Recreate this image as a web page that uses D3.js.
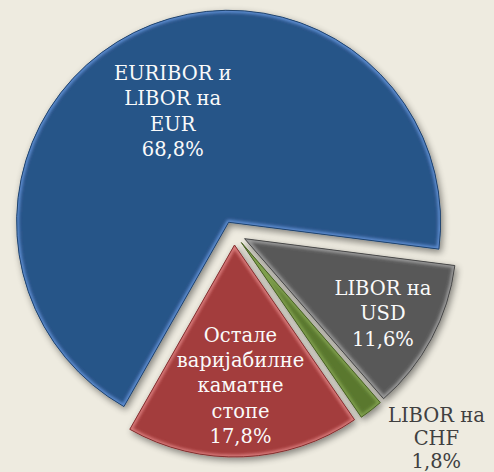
<!DOCTYPE html>
<html>
<head>
<meta charset="utf-8">
<script src="https://cdn.jsdelivr.net/npm/d3@7"></script>
<style>
  body { margin: 0; background: #eeebe0; }
  svg { display: block; }
</style>
</head>
<body>
<svg width="494" height="472"></svg>
<script>
// podaci
const categories = ["EURIBOR и LIBOR на EUR", "LIBOR на USD", "LIBOR на CHF", "Остале варијабилне каматне стопе"];
const values = [68.8, 11.6, 1.8, 17.8];
const labelLines = [
  ["EURIBOR и", "LIBOR на", "EUR", "68,8%"],
  ["LIBOR на", "USD", "11,6%"],
  ["LIBOR на", "CHF", "1,8%"],
  ["Остале", "варијабилне", "каматне", "стопе", "17,8%"]
];

const colors = ["#285488", "#595959", "#5a782e", "#a33c3c"];
const edgeColors = ["#5d8cd0", "#9a9a9a", "#7f9f4e", "#d87a7a"];
const labelColors = ["#fafafa", "#fafafa", "#404040", "#fafafa"];
const labelRadius = [0.59, 0.74, 1.30, 0.66]; // faktor poluprecnika za tekst
const labelShift = [0, 0, -7.0, 0]; // pomeraj ugla u stepenima
const lineHeights = [25.3, 25.3, 23.3, 25.3];

const svg = d3.select("svg"),
  cx = 234,
  cy = 233,
  radius = 212,
  explode = 12;

const defs = svg.append("defs");

// senka
const shadow = defs.append("filter").attr("id", "shadow")
  .attr("x", "-20%").attr("y", "-20%").attr("width", "140%").attr("height", "140%");
shadow.append("feGaussianBlur").attr("in", "SourceAlpha").attr("stdDeviation", 3.5);
shadow.append("feOffset").attr("dx", 2).attr("dy", 3).attr("result", "off");
shadow.append("feComponentTransfer").append("feFuncA").attr("type", "linear").attr("slope", 0.45);
const merge = shadow.append("feMerge");
merge.append("feMergeNode");
merge.append("feMergeNode").attr("in", "SourceGraphic");

const soft = defs.append("filter").attr("id", "soft");
soft.append("feGaussianBlur").attr("stdDeviation", 1.6);

const g = svg.append("g").attr("transform", `translate(${cx},${cy})`);

const pie = d3.pie()
  .sort(null)
  .value((d) => d)
  .startAngle((209.6 * Math.PI) / 180)
  .endAngle((209.6 * Math.PI) / 180 + 2 * Math.PI);

const arc = d3.arc().innerRadius(0).outerRadius(radius);
const arcs = pie(values);

const mid = (d) => (d.startAngle + d.endAngle) / 2;

const slices = g.selectAll(".slice")
  .data(arcs)
  .enter()
  .append("g")
  .attr("class", "slice")
  .attr("filter", "url(#shadow)")
  .attr("transform", (d) => {
    const a = mid(d);
    return `translate(${Math.sin(a) * explode},${-Math.cos(a) * explode})`;
  });

slices.each(function (d, i) {
  defs.append("clipPath").attr("id", "clip" + i)
    .append("path").attr("d", arc(d));
});

slices.append("path")
  .attr("d", arc)
  .attr("fill", (d, i) => colors[i]);

// svetla ivica (bevel)
slices.append("path")
  .attr("d", arc)
  .attr("fill", "none")
  .attr("stroke", (d, i) => edgeColors[i])
  .attr("stroke-width", 5)
  .attr("stroke-linejoin", "round")
  .attr("filter", "url(#soft)")
  .attr("clip-path", (d, i) => `url(#clip${i})`);

slices.append("path")
  .attr("d", arc)
  .attr("fill", "none")
  .attr("stroke", (d, i) => d3.color(colors[i]).darker(0.6))
  .attr("stroke-width", 1);

// natpisi
arcs.forEach((d, i) => {
  const a = mid(d) + (labelShift[i] * Math.PI) / 180;
  const r = radius * labelRadius[i] + explode;
  const x = Math.sin(a) * r;
  const y = -Math.cos(a) * r;
  const lines = labelLines[i];
  const lineH = lineHeights[i];
  const t = g.append("text")
    .style("font-family", "DejaVu Serif")
    .style("font-size", "19.5px")
    .attr("text-anchor", "middle")
    .attr("fill", labelColors[i])
    .attr("x", x)
    .attr("y", y - ((lines.length - 1) * lineH) / 2 + 7.5);
  lines.forEach((l, k) => {
    t.append("tspan").attr("x", x).attr("dy", k === 0 ? 0 : lineH).text(l);
  });
});
</script>
</body>
</html>
